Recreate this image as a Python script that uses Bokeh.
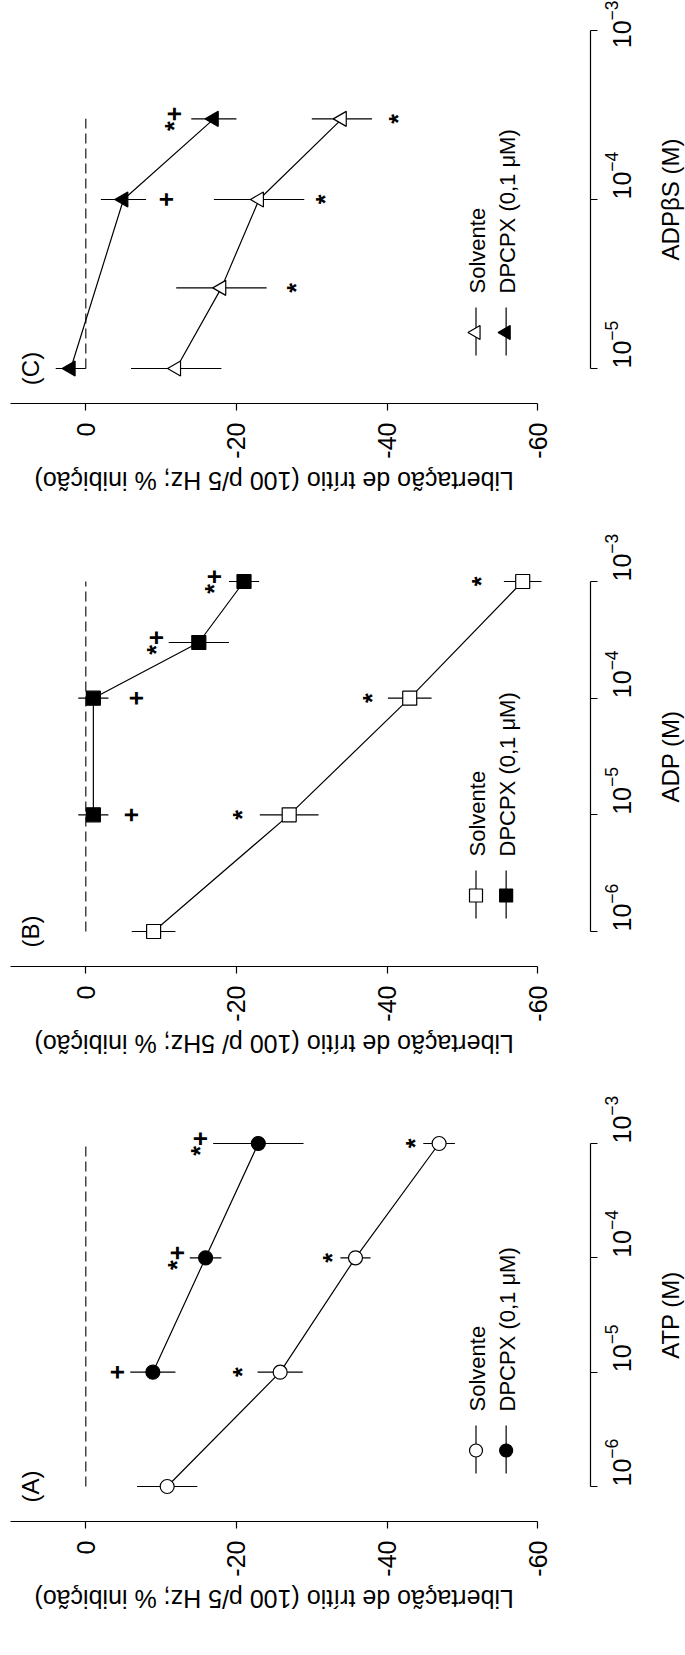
from math import pi
import numpy as np
from bokeh.plotting import figure
from bokeh.models import Range1d, FixedTicker
from bokeh.layouts import column, row
from bokeh.embed import file_html
from bokeh.resources import INLINE
from bokeh.core.properties import value

FONT = "Liberation Sans"

# ---------------- data ----------------
# Panel A : ATP
A_conc_solv = [1e-6, 1e-5, 1e-4, 1e-3]
A_solv = [-10.8, -25.8, -35.8, -46.9]
A_solv_err = [4.0, 3.0, 2.0, 2.1]
A_conc_dp = [1e-5, 1e-4, 1e-3]
A_dp = [-8.9, -15.9, -22.9]
A_dp_err = [3.0, 2.1, 6.0]
A_sig_text = ["+", "*+", "*+", "*", "*", "*"]
A_sig_conc = [1e-5, 1e-4, 1e-3, 1e-5, 1e-4, 1e-3]
A_sig_val = [-4.2, -12.1, -15.2, -20.7, -32.7, -43.7]

# Panel B : ADP
B_conc_solv = [1e-6, 1e-5, 1e-4, 1e-3]
B_solv = [-9.0, -27.0, -43.0, -58.0]
B_solv_err = [2.9, 3.9, 2.9, 2.5]
B_conc_dp = [1e-5, 1e-4, 3e-4, 1e-3]
B_dp = [-1.0, -1.0, -15.0, -21.0]
B_dp_err = [2.0, 2.0, 4.0, 2.0]
B_sig_text = ["+", "+", "*+", "*+", "*", "*", "*"]
B_sig_conc = [1e-5, 1e-4, 3e-4, 1e-3, 1e-5, 1e-4, 1e-3]
B_sig_val = [-6.0, -6.6, -9.25, -17.0, -20.7, -38.0, -52.4]

# Panel C : ADPbetaS
C_conc_solv = [1e-5, 3e-5, 1e-4, 3e-4]
C_solv = [-12.0, -18.0, -23.0, -34.0]
C_solv_err = [6.0, 6.0, 6.0, 4.0]
C_conc_dp = [1e-5, 1e-4, 3e-4]
C_dp = [2.0, -5.0, -17.0]
C_dp_err = [2.0, 3.0, 3.0]
C_sig_text = ["+", "*+", "*", "*", "*"]
C_sig_conc = [1e-4, 3e-4, 3e-5, 1e-4, 3e-4]
C_sig_val = [-10.7, -11.7, -27.9, -31.8, -41.4]

value_ticks = [0, -20, -40, -60]
value_tick_labels = ["0", "-20", "-40", "-60"]
legend_labels = ["Solvente", "DPCPX (0,1 \u03bcM)"]

# ---------------- layout ----------------
W = 685
SIDE_W = 30                       # strip holding the concentration-axis title
BORDER_L = 10
FRAME_RIGHT = 590
X_LEFT, X_RIGHT = 10.0, -67.0     # value range (reversed: 0 at left)
PAD_BOT, PAD_TOP = 35.0, 15.0
BOT_B = 60
STRIP_H = 34


def style_axis(ax):
    ax.axis_line_width = 1.2
    ax.major_tick_line_width = 1.2
    ax.major_tick_out = 7
    ax.major_tick_in = 0
    ax.minor_tick_line_color = None
    ax.axis_line_color = "black"
    ax.major_label_text_color = "black"
    ax.major_label_text_font = FONT


def clean(fig):
    fig.outline_line_color = None
    fig.grid.visible = False
    fig.background_fill_color = "white"
    fig.border_fill_color = "white"


def make_panel(letter, xlabel, conc_s, solv, solv_err, conc_d, dp, dp_err,
               sig_text, sig_conc, sig_val, marker, ppd, lo, hi, top_b):
    frame_h = int(round((hi - lo) * ppd + PAD_BOT + PAD_TOP))
    ppd_eff = (frame_h - PAD_BOT - PAD_TOP) / (hi - lo)
    y0 = lo - PAD_BOT / ppd_eff
    y1 = hi + PAD_TOP / ppd_eff
    H = top_b + frame_h + BOT_B
    main_w = W - SIDE_W
    p = figure(width=main_w, height=H, output_backend="svg", toolbar_location=None,
               x_range=Range1d(X_LEFT, X_RIGHT),
               y_range=Range1d(10 ** y0, 10 ** y1),
               y_axis_type="log", y_axis_location="right",
               min_border_left=BORDER_L, min_border_right=main_w - FRAME_RIGHT,
               min_border_top=top_b, min_border_bottom=BOT_B)
    clean(p)

    # value axis (bottom of the rotated picture)
    xa = p.xaxis[0]
    style_axis(xa)
    xa.ticker = FixedTicker(ticks=value_ticks)
    xa.major_label_overrides = {t: l for t, l in zip(value_ticks, value_tick_labels)}
    xa.bounds = (min(value_ticks), X_LEFT)
    xa.major_label_orientation = pi / 2
    xa.major_label_text_font_size = "25px"
    xa.major_label_standoff = 12

    # concentration axis (right of the rotated picture)
    ya = p.yaxis[0]
    style_axis(ya)
    ya.ticker = FixedTicker(ticks=[10.0 ** e for e in range(lo, hi + 1)])
    ya.bounds = (10.0 ** lo, 10.0 ** hi)
    ya.major_label_orientation = pi / 2
    ya.major_label_text_font_size = "25px"
    ya.major_label_standoff = 20

    # zero reference (dashed)
    allc = list(conc_s) + list(conc_d)
    p.line(x=[0, 0], y=[min(allc), max(allc)], line_color="black",
           line_width=1.1, line_dash="10 5")

    size = 14 if marker != "triangle" else 15
    ang = pi / 2 if marker == "triangle" else 0.0
    for conc, vals, errs, fill in ((conc_s, solv, solv_err, "white"),
                                   (conc_d, dp, dp_err, "black")):
        v = np.array(vals)
        e = np.array(errs)
        p.segment(x0=v - e, x1=v + e, y0=conc, y1=conc, line_color="black", line_width=1.2)
        p.line(x=vals, y=conc, line_color="black", line_width=1.2)
        p.scatter(x=vals, y=conc, marker=marker, size=size, angle=ang,
                  fill_color=fill, line_color="black", line_width=1.2)

    # significance symbols
    p.text(x=sig_val, y=sig_conc, text=sig_text, angle=pi / 2,
           text_font=value(FONT), text_font_size="25px", text_font_style="bold",
           text_color="black", text_align="center", text_baseline="middle")

    # panel letter
    p.text(x=[7.3], y=[10.0 ** lo], text=["(%s)" % letter], angle=pi / 2,
           text_font=value(FONT), text_font_size="24px", text_color="black",
           text_align="center", text_baseline="middle")

    # legend (positions in screen px above the value axis)
    def yl(px):
        return 10 ** (y0 + px / ppd_eff)
    leg_x = [-51.8, -55.8]
    fills = ["white", "black"]
    for lx, lab, fill in zip(leg_x, legend_labels, fills):
        p.segment(x0=[lx], x1=[lx], y0=[yl(48)], y1=[yl(96)], line_color="black", line_width=1.2)
        p.scatter(x=[lx], y=[yl(71)], marker=marker, size=size - 1, angle=ang,
                  fill_color=fill, line_color="black", line_width=1.2)
        p.text(x=[lx - 0.2], y=[yl(110)], text=[lab], angle=pi / 2,
               text_font=value(FONT), text_font_size="22px", text_color="black",
               text_align="left", text_baseline="middle")

    # side strip with the concentration-axis title (reads bottom-to-top)
    s = figure(width=SIDE_W, height=H, output_backend="svg", toolbar_location=None,
               x_range=Range1d(0, 1), y_range=Range1d(10 ** y0, 10 ** y1),
               y_axis_type="log", x_axis_location=None, y_axis_location=None,
               min_border_left=0, min_border_right=0,
               min_border_top=top_b, min_border_bottom=BOT_B)
    clean(s)
    s.text(x=[0.5], y=[10 ** ((lo + hi) / 2)], text=[xlabel], angle=pi / 2,
           text_font=value(FONT), text_font_size="24px", text_color="black",
           text_align="center", text_baseline="middle")
    return row(p, s, spacing=0)


def make_strip(label):
    """Strip under a panel holding the (upside-down) value-axis title."""
    s = figure(width=W, height=STRIP_H, output_backend="svg", toolbar_location=None,
               x_range=Range1d(X_LEFT, X_RIGHT), y_range=Range1d(0, 1),
               x_axis_location=None, y_axis_location=None,
               min_border_left=BORDER_L, min_border_right=W - FRAME_RIGHT,
               min_border_top=0, min_border_bottom=0)
    clean(s)
    s.text(x=[(X_LEFT + min(value_ticks)) / 2], y=[0.5], text=[label], angle=pi,
           text_font=value(FONT), text_font_size="25px", text_color="black",
           text_align="center", text_baseline="middle")
    return s


ylab = "Libertação de trítio (100 p/5 Hz; % inibição)"
ylabB = "Libertação de trítio (100 p/ 5Hz; % inibição)"

pC = make_panel("C", "ADP\u03b2S (M)", C_conc_solv, C_solv, C_solv_err,
                C_conc_dp, C_dp, C_dp_err, C_sig_text, C_sig_conc, C_sig_val,
                "triangle", 169.2, -5, -3, 15)
pB = make_panel("B", "ADP (M)", B_conc_solv, B_solv, B_solv_err,
                B_conc_dp, B_dp, B_dp_err, B_sig_text, B_sig_conc, B_sig_val,
                "square", 116.7, -6, -3, 69)
pA = make_panel("A", "ATP (M)", A_conc_solv, A_solv, A_solv_err,
                A_conc_dp, A_dp, A_dp_err, A_sig_text, A_sig_conc, A_sig_val,
                "circle", 114.4, -6, -3, 68)

layout = column(pC, make_strip(ylab), pB, make_strip(ylabB), pA, make_strip(ylab),
                spacing=0)
open("out.html", "w").write(file_html(layout, INLINE))
